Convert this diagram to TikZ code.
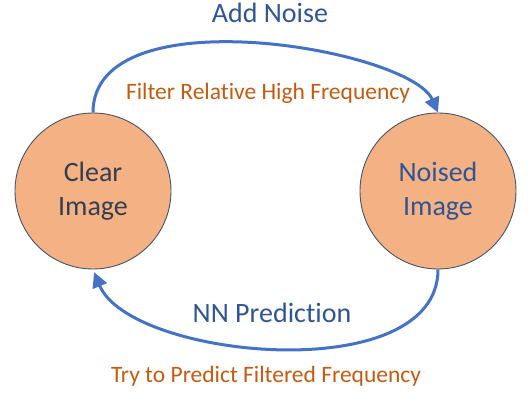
\documentclass[tikz,border=0pt]{standalone}
\usepackage{fontspec}
\setmainfont{Carlito}[Ligatures=NoCommon]
\usetikzlibrary{arrows.meta}
\definecolor{peach}{HTML}{F4B183}
\definecolor{rim}{HTML}{44546A}
\definecolor{arrowblue}{HTML}{4472C4}
\definecolor{labelblue}{HTML}{2F5597}
\definecolor{darktext}{HTML}{333F50}
\definecolor{rust}{HTML}{C55A11}
\begin{document}
\begin{tikzpicture}[x=1pt,y=1pt,
    imgnode/.style={circle,fill=peach,draw=rim,line width=0.9pt,minimum size=156pt,inner sep=0pt,
      align=center,font=\fontsize{28}{34}\selectfont},
    loop/.style={arrowblue,line width=3pt,-{Triangle[length=15pt,width=15pt]}},
    steplabel/.style={labelblue,anchor=base,font=\fontsize{28}{34}\selectfont},
    note/.style={rust,anchor=base,font=\fontsize{23.5}{28}\selectfont}]
  \useasboundingbox (0,0) rectangle (528,394);
  \node[imgnode,text=darktext] (clear) at (93,203) {Clear\\Image};
  \node[imgnode,text=labelblue] (noised) at (438,203) {Noised\\Image};
  \draw[loop] (clear.north) .. controls (93,400) and (410,345) .. (noised.north);
  \draw[loop,shorten >=3pt] (noised.south) .. controls (438,5) and (130,35) .. (clear.south);
  \node[steplabel] (add) at (270,371) {Add Noise};
  \node[note] (filter) at (268,294) {Filter Relative High Frequency};
  \node[steplabel] (pred) at (272,71) {NN Prediction};
  \node[note] (try) at (266,12) {Try to Predict Filtered Frequency};
\end{tikzpicture}
\end{document}
